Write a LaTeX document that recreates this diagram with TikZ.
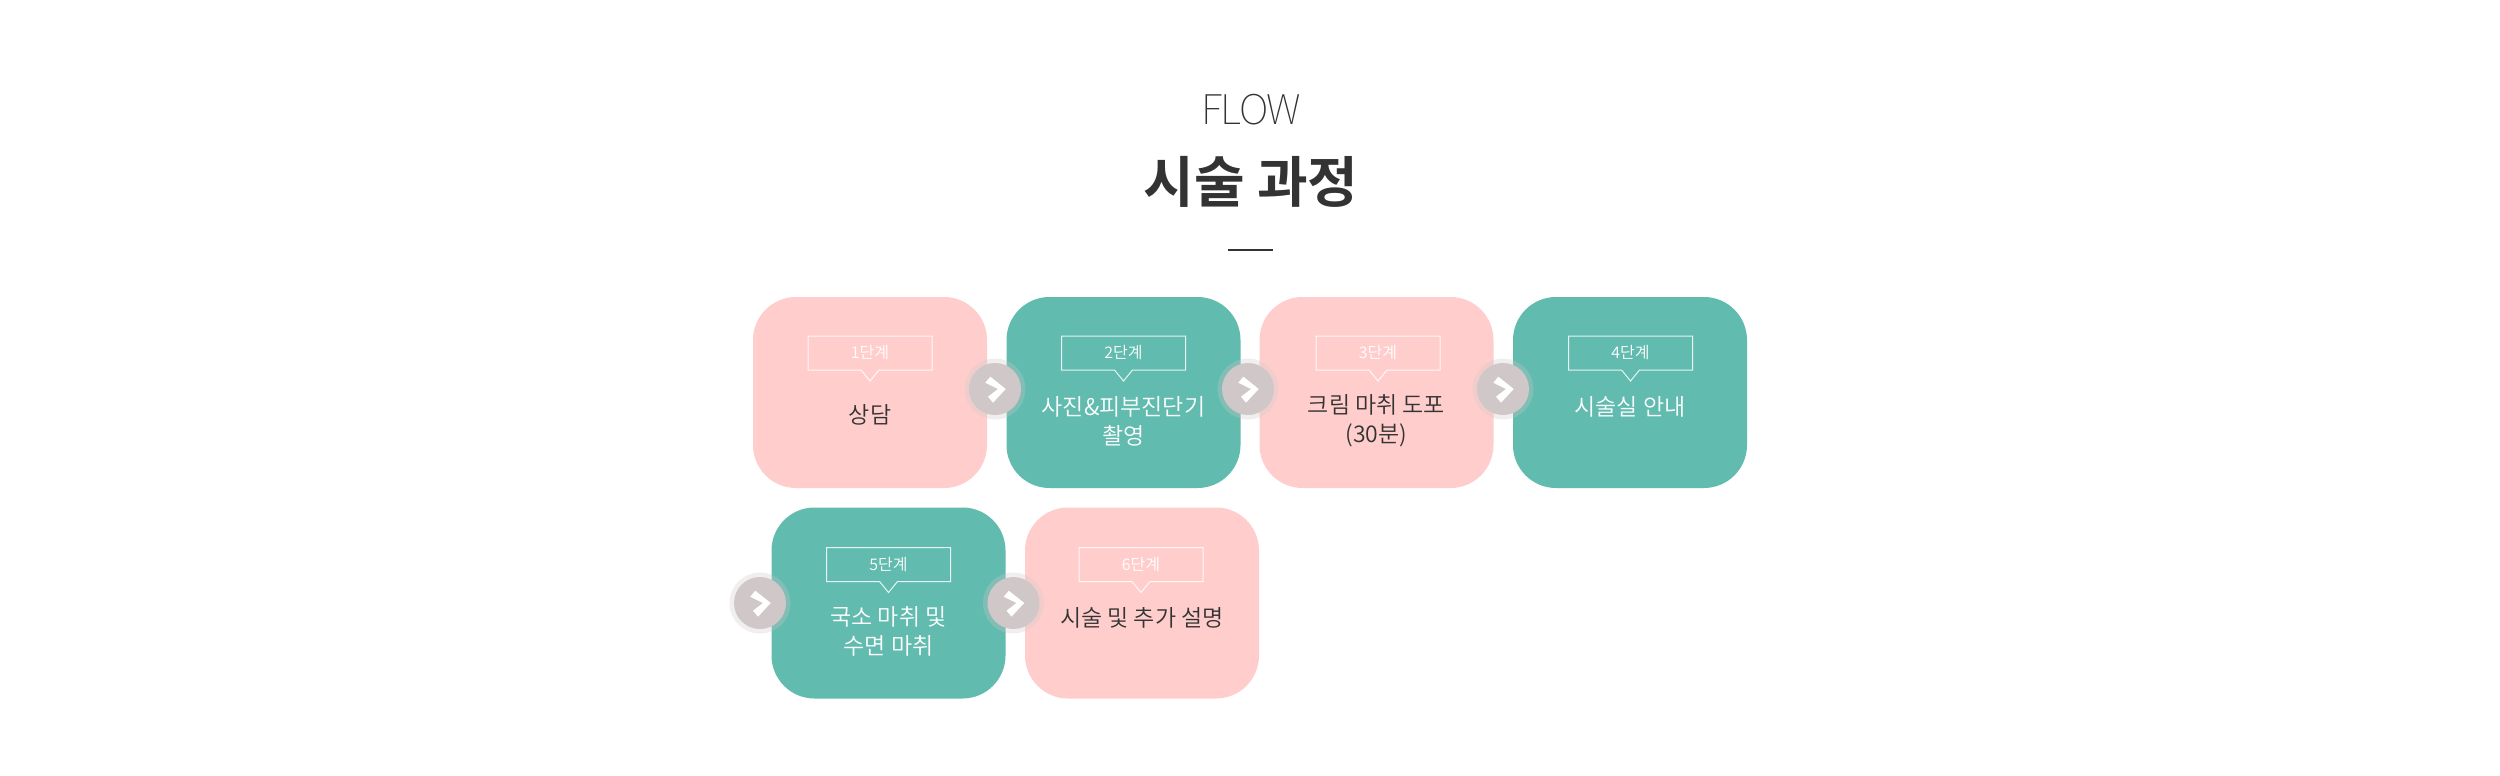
\documentclass[tikz,border=0pt]{standalone}
\usepackage{fontspec}
\setmainfont{Noto Sans CJK KR DemiLight}
\newfontfamily\flowfont[LetterSpace=-4]{Noto Sans CJK KR Thin}
\newfontfamily\titlefont{Noto Sans CJK KR Bold}
\usetikzlibrary{calc}
\definecolor{RosaPaso}{RGB}{255,206,204}
\definecolor{VerdePaso}{RGB}{98,187,175}
\definecolor{GrisPunto}{RGB}{208,200,200}
\definecolor{TintaTexto}{RGB}{51,51,51}
\tikzset{
  stepbox/.style={minimum width=234pt,minimum height=191pt,rounded corners=43pt,inner sep=0pt,outer sep=0pt},
  pinkbox/.style={stepbox,fill=RosaPaso},
  greenbox/.style={stepbox,fill=VerdePaso},
  taglabel/.style={minimum width=124pt,minimum height=34pt,inner sep=0pt,outer sep=0pt,text=white,font=\fontsize{16}{16}\selectfont},
  steptext/.style={align=center,inner sep=0pt,font=\fontsize{23}{29}\selectfont},
  stepdot/.style={circle,minimum size=52pt,inner sep=0pt,outer sep=0pt,fill=GrisPunto,draw=GrisPunto,draw opacity=0.3,line width=9pt},
}
\newcommand{\steptag}[3]{
  \node[taglabel] (#1) at (#2) {#3};
  \draw[white,line width=1pt,opacity=0.85,line join=miter] (#1.south west)--(#1.north west)--(#1.north east)--(#1.south east)
    --($(#1.south)+(9,0)$)--($(#1.south)+(0,11)$)--($(#1.south)+(-9,0)$)--cycle;
}
\newcommand{\stepdotat}[2]{
  \node[stepdot] (#1) at (#2) {};
  \fill[white,shift={(#1.center)}] (-9.7,-6.3)--(-4.7,-12.3)--(10.7,0)--(-2,13.7)--(-7,7.7)--(3,0)--cycle;
}
\begin{document}
\begin{tikzpicture}[x=1pt,y=-1pt]
  \useasboundingbox (0,0) rectangle (2500,776);
  \fill[white] (0,0) rectangle (2500,776);
  % heading
  \node[inner sep=0pt,text=TintaTexto,font=\flowfont\fontsize{41}{41}\selectfont] (flow) at (1251,110) {FLOW};
  \node[inner sep=0pt,text=TintaTexto,font=\titlefont\fontsize{55}{55}\selectfont] (title) at (1251,182) {시술 과정};
  \coordinate (ruleL) at (1228,250);
  \coordinate (ruleR) at (1273,250);
  \draw[TintaTexto,line width=1.6pt] (ruleL)--(ruleR);
  % step boxes
  \node[pinkbox] (s1) at (870,392.5) {};
  \node[greenbox] (s2) at (1123.5,392.5) {};
  \node[pinkbox] (s3) at (1376.5,392.5) {};
  \node[greenbox] (s4) at (1630,392.5) {};
  \node[greenbox] (s5) at (888.5,603) {};
  \node[pinkbox] (s6) at (1142,603) {};
  % tags
  \steptag{t1}{870,353}{1단계}
  \steptag{t2}{1123.5,353}{2단계}
  \steptag{t3}{1378,353}{3단계}
  \steptag{t4}{1630.5,353}{4단계}
  \steptag{t5}{888.5,564.5}{5단계}
  \steptag{t6}{1141,564.5}{6단계}
  % step texts
  \node[steptext,text=TintaTexto] (l1) at (870,414.5) {상담};
  \node[steptext,text=white] (l2) at (1123.5,421) {사진\&피부진단기\\촬영};
  \node[steptext,text=TintaTexto] (l3) at (1376.5,421) {크림 마취 도포\\(30분)};
  \node[steptext,text=white] (l4) at (1630,406.5) {시술실 안내};
  \node[steptext,text=white] (l5) at (888.5,631.5) {국소 마취 및\\수면 마취};
  \node[steptext,text=TintaTexto] (l6) at (1142,617.5) {시술 및 추가 설명};
  % arrows between steps
  \stepdotat{d1}{995,389}
  \stepdotat{d2}{1248,389}
  \stepdotat{d3}{1503,389}
  \stepdotat{d4}{760,603}
  \stepdotat{d5}{1013.5,603}
\end{tikzpicture}
\end{document}
